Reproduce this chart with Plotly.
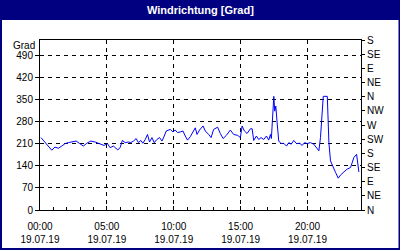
import plotly.graph_objects as go

hours = [0.07,0.37,0.62,0.88,1.12,1.37,1.63,1.87,2.12,2.49,
         2.70,2.94,3.24,3.50,3.80,4.12,4.49,4.79,5.04,5.24,
         5.49,5.82,5.99,6.16,6.37,6.61,6.79,6.99,7.19,7.36,
         7.54,7.69,7.87,8.04,8.19,8.37,8.54,8.74,8.94,9.12,
         9.29,9.44,9.74,9.94,10.11,10.28,10.49,10.69,10.86,11.03,
         11.24,11.44,11.61,11.74,11.93,12.19,12.36,12.61,12.79,12.98,
         13.28,13.48,
         13.69,13.93,14.23,14.48,14.78,14.98,15.11,15.28,15.48,15.73,
         15.86,15.98,16.18,16.35,16.53,16.73,16.93,17.10,17.23,17.30,
         17.40,17.48,17.55,17.63,17.73,17.85,18.03,18.22,18.43,18.60,
         18.78,18.97,19.18,19.42,19.60,19.78,19.98,20.22,20.47,20.67,
         20.85,20.97,21.10,21.18,21.48,21.52,21.60,21.72,21.93,22.10,
         22.30,22.47,22.72,22.97,23.22,23.35,23.47,23.67,23.77,23.84]
degrees = [230,214,203,190,200,196,203,211,214,217,
           219,212,203,212,219,216,211,205,211,198,
           203,191,198,221,214,216,214,219,227,214,
           221,212,224,240,216,230,214,224,230,219,
           235,251,256,248,254,246,248,251,235,222,
           233,251,261,240,254,267,251,240,230,256,
           263,243,
           227,237,254,240,237,230,267,251,243,258,
           258,221,235,224,230,224,235,222,240,227,
           314,361,314,330,277,219,211,212,203,214,
           209,221,211,212,205,214,211,214,209,198,
           188,230,325,361,361,319,214,156,132,119,
           101,111,121,130,135,151,167,177,151,121]

x_tickvals = [0, 5, 10, 15, 20]
x_ticktext = ["00:00<br>19.07.19", "05:00<br>19.07.19", "10:00<br>19.07.19",
              "15:00<br>19.07.19", "20:00<br>19.07.19"]
y_tickvals = [0, 70, 140, 210, 280, 350, 420, 490]
dir_tickvals = [0, 45, 90, 135, 180, 225, 270, 315, 360, 405, 450, 495, 540]
dir_ticktext = ["N", "NE", "E", "SE", "S", "SW", "W", "NW", "N", "NE", "E", "SE", "S"]

FONT = "Liberation Sans"
NAVY = "#000080"

fig = go.Figure()
fig.add_trace(go.Scatter(x=hours, y=degrees, mode="lines",
                         line=dict(color="#0000FF", width=1.0), showlegend=False))
fig.add_trace(go.Scatter(x=[0], y=[0], yaxis="y2", mode="markers",
                         marker=dict(opacity=0), showlegend=False, hoverinfo="skip"))

L, R, T, B = 40, 39, 40, 40
W, H = 400, 250
pw, ph = W - L - R, H - T - B

def px(x):
    return (x - L) / pw

def py(y):
    return (H - B - y) / ph

fig.update_layout(
    width=W, height=H,
    margin=dict(l=L, r=R, t=T, b=B, pad=0),
    paper_bgcolor=NAVY,
    plot_bgcolor="white",
    font=dict(family=FONT, size=10, color="black"),
    xaxis=dict(range=[0, 24], tickmode="array", tickvals=x_tickvals, ticktext=x_ticktext,
               showgrid=True, gridcolor="black", griddash="4px,4px", gridwidth=1,
               showline=True, linecolor="black", linewidth=1, mirror=True,
               ticks="inside", ticklen=4, tickcolor="black", zeroline=False,
               ticklabelstandoff=7, automargin=False,
               minor=dict(tickmode="linear", tick0=0, dtick=1, ticks="inside",
                          ticklen=3, tickcolor="black", showgrid=False),
               fixedrange=True),
    yaxis=dict(range=[0, 540], tickmode="array", tickvals=y_tickvals,
               showgrid=True, gridcolor="black", griddash="4px,4px", gridwidth=1,
               showline=True, linecolor="black", linewidth=1, automargin=False,
               ticks="outside", ticklen=4, tickcolor="black", zeroline=False),
    yaxis2=dict(range=[0, 540], overlaying="y", side="right", tickmode="array",
                tickvals=dir_tickvals, ticktext=dir_ticktext, showgrid=False,
                showline=True, linecolor="black", linewidth=1, automargin=False,
                ticks="outside", ticklen=3, tickcolor="black", zeroline=False),
    shapes=[dict(type="rect", xref="paper", yref="paper", layer="below",
                 x0=px(2), x1=px(398.5), y0=py(248), y1=py(20),
                 fillcolor="white", line=dict(width=0))],
    annotations=[
        dict(text="<b>Windrichtung [Grad]</b>", xref="paper", yref="paper",
             x=px(200), y=py(10), xanchor="center", yanchor="middle",
             showarrow=False, font=dict(color="white", size=11, family=FONT)),
        dict(text="Grad", xref="paper", yref="paper", x=px(37), y=py(45),
             xanchor="right", yanchor="middle", showarrow=False,
             font=dict(size=10, family=FONT)),
    ],
)

fig.write_html("out.html")
